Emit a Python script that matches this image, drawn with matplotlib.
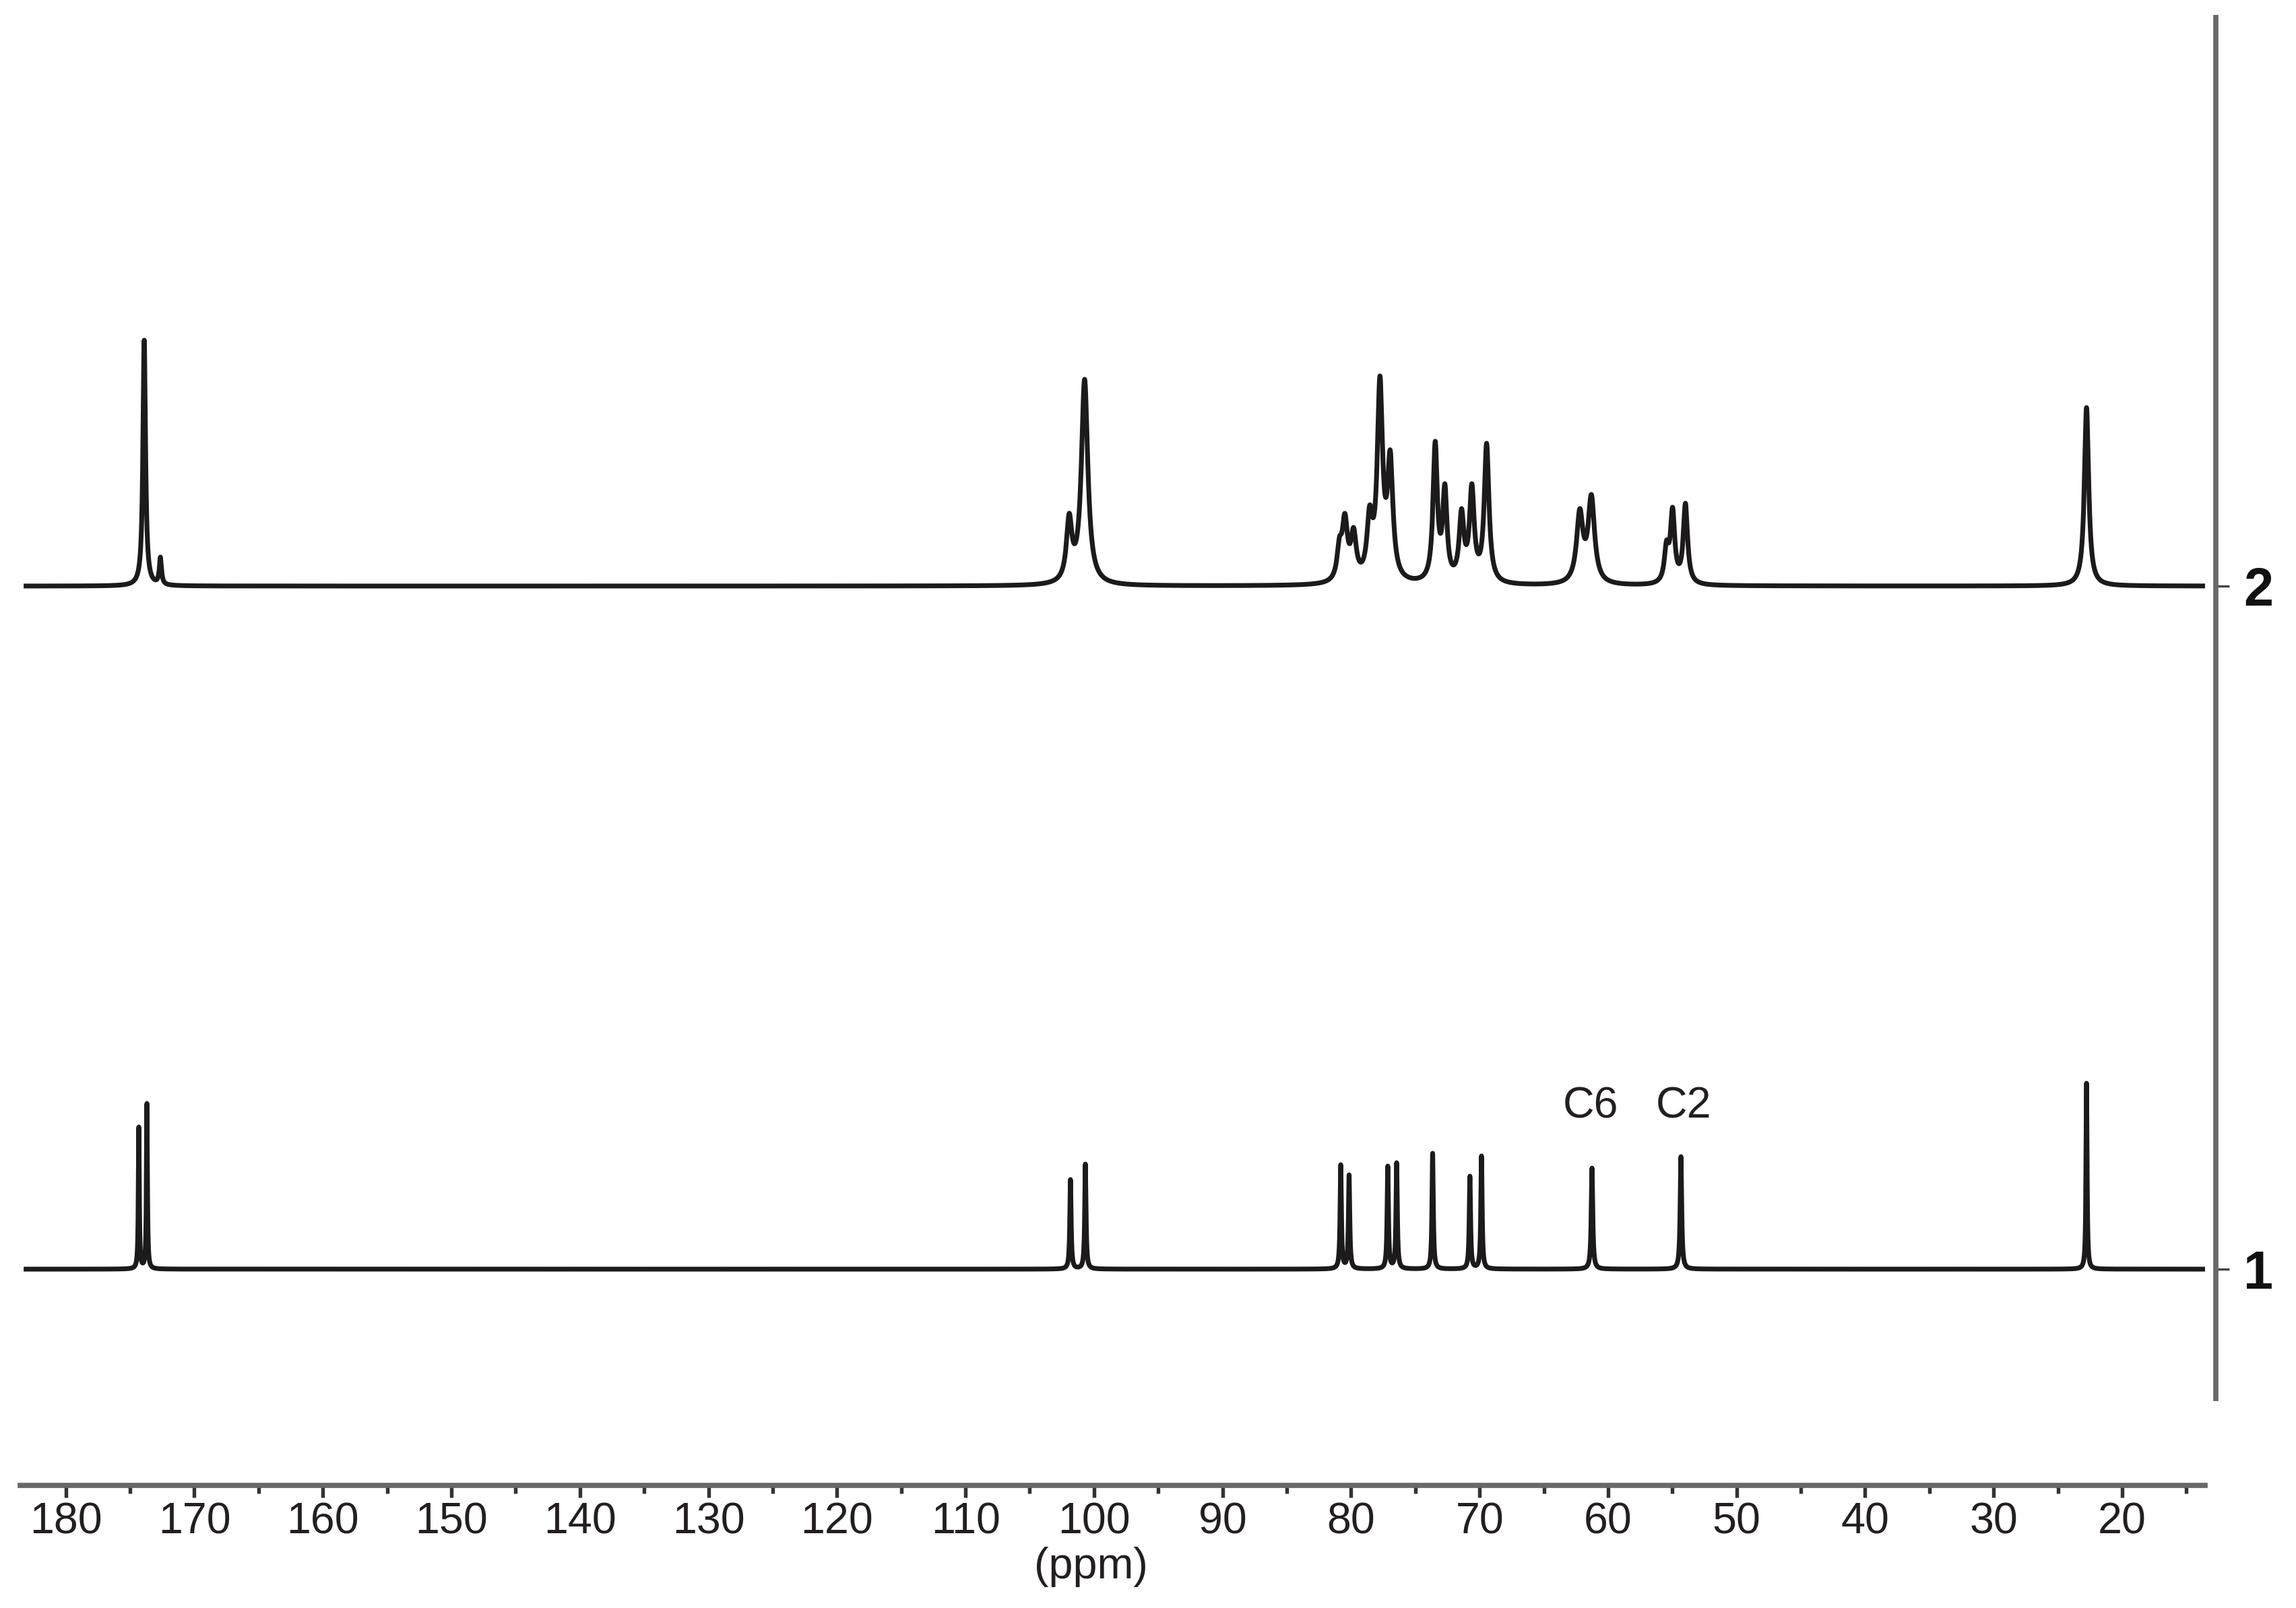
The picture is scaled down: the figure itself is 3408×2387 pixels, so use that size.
import numpy as np
import matplotlib
matplotlib.use("Agg")
import matplotlib.pyplot as plt
from matplotlib import font_manager as fm

# ---------------- data ----------------
# Spectrum 1 (bottom): peak positions (ppm), heights (a.u.), half widths (ppm)
s1_pos = [174.32, 173.69, 101.83, 100.67, 80.80, 80.15, 77.14, 76.45,
          73.65, 70.75, 69.85, 61.25, 54.33, 22.77]
s1_hgt = [211, 246, 133, 156, 155, 140, 153, 158, 172, 138, 168, 150, 167, 276]
s1_wid = [0.045, 0.045, 0.06, 0.06, 0.06, 0.06, 0.06, 0.06, 0.06, 0.06, 0.06,
          0.07, 0.07, 0.05]

# Spectrum 2 (top)
s2_pos = [173.90, 172.64, 101.93, 100.73, 80.90, 80.48, 79.80, 78.55, 77.75,
          76.95, 73.45, 72.70, 71.40, 70.60, 69.45, 62.20, 61.30, 55.45,
          54.98, 53.98, 22.77]
s2_hgt = [365, 43, 108, 307, 73, 108, 87, 120, 312, 202, 215, 152, 115, 152,
          212, 115, 136, 68, 117, 123, 265]
s2_wid = [0.12, 0.10, 0.25, 0.30, 0.22, 0.25, 0.25, 0.25, 0.25, 0.25, 0.20,
          0.20, 0.22, 0.22, 0.22, 0.30, 0.30, 0.20, 0.20, 0.20, 0.20]

spectrum_labels = ["1", "2"]
peak_labels = ["C6", "C2"]
peak_label_ppm = [61.36, 54.13]

major_ticks = list(range(20, 181, 10))
minor_ticks = list(range(15, 181, 5))

# ---------------- layout ----------------
W, H, DPI = 3408, 2387, 300
BASE1, BASE2 = 320.5, 1334.5          # vertical offsets of the two traces
LABEL_Y = 562.5

names = {f.name for f in fm.fontManager.ttflist}
NARROW = "Liberation Sans Narrow" if "Liberation Sans Narrow" in names else "Liberation Sans"
REG = "Liberation Sans"


def lorentz(x, x0, g):
    return 1.0 / (1.0 + ((x - x0) / g) ** 2)


def build(x, pos, hgt, wid):
    pos = np.asarray(pos, float)
    hgt = np.asarray(hgt, float)
    wid = np.asarray(wid, float)
    M = lorentz(pos[:, None], pos[None, :], wid[None, :])
    amp = np.linalg.solve(M, hgt)
    amp = np.clip(amp, 0.15 * hgt, None)
    return (amp[None, :] * lorentz(x[:, None], pos[None, :], wid[None, :])).sum(axis=1)


x = np.arange(13.6, 183.1, 0.005)
x = np.union1d(x, np.array(s1_pos + s2_pos))
y1 = build(x, s1_pos, s1_hgt, s1_wid)
y2 = build(x, s2_pos, s2_hgt, s2_wid)

fig = plt.figure(figsize=(W / DPI, H / DPI), dpi=DPI)
ax = fig.add_axes([30 / W, 1 - 2204.5 / H, (3273 - 30) / W, (2204.5 - 26) / H])

ax.plot(x, BASE1 + y1, color="#1c1a1b", lw=1.7, solid_joinstyle="round")
ax.plot(x, BASE2 + y2, color="#1c1a1b", lw=1.7, solid_joinstyle="round")

ax.set_xlim(183.55, 13.55)
ax.set_ylim(0, 2178.5)

spine_col = "#686868"
for s in ("top", "left"):
    ax.spines[s].set_visible(False)
ax.spines["bottom"].set_linewidth(1.85)
ax.spines["bottom"].set_color(spine_col)
ax.spines["right"].set_linewidth(1.85)
ax.spines["right"].set_color(spine_col)
ax.spines["right"].set_position(("axes", (3289 - 30) / (3273 - 30)))
ax.spines["right"].set_bounds(128.5, 2178.5)

ax.set_xticks(major_ticks)
ax.set_xticks(minor_ticks, minor=True)
ax.set_xticklabels([str(t) for t in major_ticks])
ax.tick_params(axis="x", which="major", direction="out", length=4.4, width=1.3,
               color="#333333", pad=1.6, labelsize=15.5, labelcolor="#231f20")
ax.tick_params(axis="x", which="minor", direction="out", length=2.8, width=1.3,
               color="#333333")
for lab in ax.get_xticklabels():
    lab.set_fontfamily(NARROW)

ax.yaxis.tick_right()
ax.set_yticks([BASE1, BASE2])
ax.set_yticklabels(spectrum_labels)
ax.tick_params(axis="y", which="major", direction="out", length=4.8, width=0.8,
               color="#444444", pad=5, labelsize=19, labelcolor="#111111")
for lab in ax.get_yticklabels():
    lab.set_fontfamily(REG)
    lab.set_fontweight("bold")

for lbl, p in zip(peak_labels, peak_label_ppm):
    ax.text(p, LABEL_Y, lbl, ha="center", va="center", fontsize=15.5,
            family=NARROW, color="#231f20")

fig.text(1619 / W, 1 - 2326 / H, "(ppm)", ha="center", va="center",
         fontsize=15.5, family=REG, color="#231f20")

fig.savefig("out.png", dpi=DPI, facecolor="white")
